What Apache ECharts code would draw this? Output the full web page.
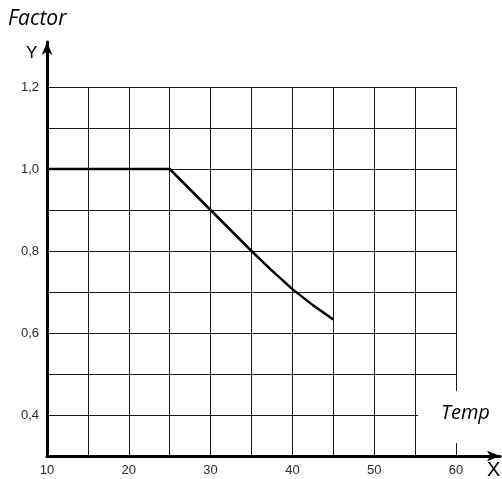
<!DOCTYPE html>
<html lang="en">
<head>
    <meta charset="UTF-8">
    <title>Factor vs Temp</title>
    <script src="https://cdn.jsdelivr.net/npm/echarts@6/dist/echarts.min.js"></script>
    <style>
        html, body { margin: 0; padding: 0; background: #fff; }
        #chart { width: 502px; height: 479px; }
    </style>
</head>
<body>
    <div id="chart"></div>
    <script>
        // curve
        const temp = [10, 25, 30, 35, 37.5, 40, 42.5, 45];
        const factor = [1.0, 1.0, 0.9, 0.8, 0.752, 0.707, 0.668, 0.633];

        const xLabels = [10, 20, 30, 40, 50, 60];
        const yLabels = [0.4, 0.6, 0.8, 1.0, 1.2];

        const labelFont = { color: '#2a2a2a', fontSize: 13, fontFamily: 'Liberation Sans' };
        const gridColor = '#1a1a1a';

        const chart = echarts.init(document.getElementById('chart'));
        chart.setOption({
            animation: false,
            grid: [
                { left: 47, right: 46, top: 87, bottom: 23 },
                // second grid only carries the long arrowed axes
                { left: 47, right: 2, top: 42, bottom: 23 }
            ],
            xAxis: [{
                gridIndex: 0,
                type: 'value',
                min: 10, max: 60, interval: 5,
                axisLine: { show: false },
                axisTick: { show: false },
                splitLine: { lineStyle: { color: gridColor, width: 1 } },
                axisLabel: Object.assign({
                    margin: 8,
                    formatter: v => xLabels.includes(v) ? String(v) : ''
                }, labelFont)
            }, {
                gridIndex: 1,
                type: 'value', min: 0, max: 1,
                axisLine: { onZero: false, symbol: ['none', 'arrow'], symbolSize: [8, 13],
                            lineStyle: { color: '#000', width: 3 } },
                axisTick: { show: false }, axisLabel: { show: false }, splitLine: { show: false },
                z: 10
            }],
            yAxis: [{
                gridIndex: 0,
                type: 'value',
                min: 0.3, max: 1.2, interval: 0.1,
                axisLine: { show: false },
                axisTick: { show: false },
                splitLine: { lineStyle: { color: gridColor, width: 1 } },
                axisLabel: Object.assign({
                    margin: 8,
                    formatter: v => {
                        const r = Math.round(v * 10) / 10;
                        return yLabels.includes(r) ? r.toFixed(1).replace('.', ',') : '';
                    }
                }, labelFont)
            }, {
                gridIndex: 1,
                type: 'value', min: 0, max: 1,
                axisLine: { onZero: false, symbol: ['none', 'arrow'], symbolSize: [8, 13],
                            lineStyle: { color: '#000', width: 3 } },
                axisTick: { show: false }, axisLabel: { show: false }, splitLine: { show: false },
                z: 10
            }],
            series: [{
                type: 'line',
                xAxisIndex: 0,
                yAxisIndex: 0,
                data: temp.map((t, i) => [t, factor[i]]),
                showSymbol: false,
                lineStyle: { color: '#000', width: 2.5, join: 'round', cap: 'butt' },
                z: 5
            }],
            graphic: [
                { type: 'text', left: 8, top: 9,
                  style: { text: 'Factor', fontStyle: 'italic', fontSize: 21, fontFamily: 'Open Sans', fill: '#000' } },
                { type: 'text', left: 26, top: 45,
                  style: { text: 'Y', fontSize: 17, fontFamily: 'Liberation Sans', fill: '#000' } },
                { type: 'rect', left: 418, top: 391, z: 20,
                  shape: { width: 84, height: 52 }, style: { fill: '#fff' } },
                { type: 'text', left: 441, top: 403, z: 21,
                  style: { text: 'Temp', fontStyle: 'italic', fontSize: 20, fontFamily: 'Open Sans', fill: '#000' } },
                { type: 'text', left: 487, top: 460, z: 21,
                  style: { text: 'X', fontSize: 20, fontFamily: 'Liberation Sans', fill: '#000' } }
            ]
        });
    </script>
</body>
</html>
